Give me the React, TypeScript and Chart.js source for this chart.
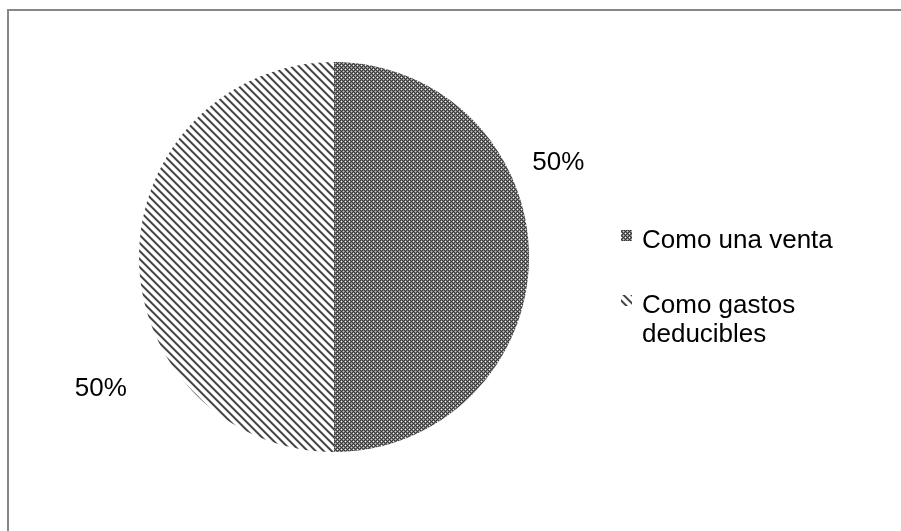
import React, { useEffect, useRef } from "react";
import { Chart, registerables } from "chart.js";

Chart.register(...registerables);

// ---- data ----
const categories = ["Como una venta", "Como gastos deducibles"];
const legendLines = [["Como una venta"], ["Como gastos", "deducibles"]];
const values = [50, 50];

// ---- pattern helpers ----
function makeTile(size: number, fn: (x: number, y: number) => string): HTMLCanvasElement {
  const c = document.createElement("canvas");
  c.width = size;
  c.height = size;
  const g = c.getContext("2d")!;
  for (let y = 0; y < size; y++) {
    for (let x = 0; x < size; x++) {
      g.fillStyle = fn(x, y);
      g.fillRect(x, y, 1, 1);
    }
  }
  return c;
}

const gridTile = () =>
  makeTile(4, (x, y) => {
    if (x % 4 === 1 && y % 4 === 1) return "#ffffff";
    if (x % 4 === 3 && y % 4 === 3) return "#c8c8c8";
    return (x + y) % 2 === 0 ? "#363636" : "#7c7c7c";
  });

const diagTile = () =>
  makeTile(8, (x, y) => {
    const d = (((x - y) % 8) + 8) % 8;
    if (d === 0 || d === 1) return "#454545";
    if (d === 2) return "#959595";
    if (d === 7) return "#c4c4c4";
    return "#ffffff";
  });

// label placement (angle in degrees, distance as factor of radius) – styling only
const labelPlacement = [
  { angle: -22.7, factor: 1.247 },
  { angle: 150.6, factor: 1.373 },
];

export default function App() {
  const ref = useRef<HTMLCanvasElement | null>(null);

  useEffect(() => {
    const canvas = ref.current!;
    const ctx = canvas.getContext("2d")!;
    const patterns = [
      ctx.createPattern(gridTile(), "repeat")!,
      ctx.createPattern(diagTile(), "repeat")!,
    ];
    const total = values.reduce((a, b) => a + b, 0);
    const font = '26px "Liberation Sans", Arial, sans-serif';

    const deco = {
      id: "deco",
      beforeDraw(chart: any) {
        const c = chart.ctx;
        c.save();
        c.fillStyle = "#ffffff";
        c.fillRect(0, 0, chart.width, chart.height);
        c.strokeStyle = "#878787";
        c.lineWidth = 2;
        c.strokeRect(8, 10, 2000, 2000);
        c.restore();
      },
      afterDraw(chart: any) {
        const c = chart.ctx;
        const meta = chart.getDatasetMeta(0);
        c.save();
        c.font = font;
        c.fillStyle = "#000000";
        c.textAlign = "center";
        c.textBaseline = "middle";
        meta.data.forEach((arc: any, i: number) => {
          const p = arc.getProps(["x", "y", "outerRadius"], true);
          const pl = labelPlacement[i];
          const a = (pl.angle * Math.PI) / 180;
          const lx = p.x + Math.cos(a) * p.outerRadius * pl.factor;
          const ly = p.y + Math.sin(a) * p.outerRadius * pl.factor;
          const pct = Math.round((values[i] / total) * 100) + "%";
          c.fillText(pct, lx, ly);
        });
        // legend
        const markerX = 621;
        const textX = 642;
        const firstBaselines = [248, 313];
        const lineGap = 29;
        c.textAlign = "left";
        c.textBaseline = "alphabetic";
        legendLines.forEach((lines, i) => {
          const b = firstBaselines[i];
          c.fillStyle = patterns[i];
          c.fillRect(markerX, b - 18, 11, 11);
          c.fillStyle = "#000000";
          lines.forEach((t, j) => c.fillText(t, textX, b + j * lineGap));
        });
        c.restore();
      },
    };

    const chart = new Chart(canvas, {
      type: "pie",
      data: {
        labels: categories,
        datasets: [
          {
            data: values,
            backgroundColor: patterns as any,
            borderWidth: 0,
          },
        ],
      },
      options: {
        responsive: false,
        animation: false,
        devicePixelRatio: 1,
        layout: { padding: { left: 139, right: 372, top: 62, bottom: 79 } },
        plugins: {
          legend: { display: false },
          tooltip: { enabled: false },
          title: { display: false },
        },
      },
      plugins: [deco],
    });
    return () => chart.destroy();
  }, []);

  return (
    <div style={{ position: "fixed", left: 0, top: 0, width: 901, height: 531, background: "#fff" }}>
      <canvas ref={ref} width={901} height={531} style={{ width: 901, height: 531, display: "block" }} />
    </div>
  );
}
